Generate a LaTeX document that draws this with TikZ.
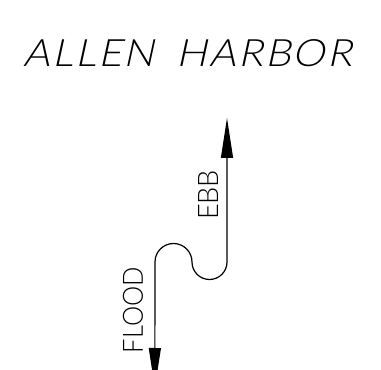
\documentclass[tikz,border=0pt]{standalone}
\usepackage{fontspec}
\setmainfont{Liberation Sans}
\newfontfamily\titlefont[FakeSlant=0.2,LetterSpace=5]{Lato Light}
\newfontfamily\labelfont{Lato Light}
\usetikzlibrary{arrows.meta}
\tikzset{
  flowline/.style={line width=1.2pt, {Triangle[length=40pt,width=12pt]}-{Triangle[length=40pt,width=12pt]}},
  titletext/.style={inner sep=0pt, font=\titlefont\fontsize{37.7}{40}\selectfont},
  dirtext/.style={inner sep=0pt, rotate=90, font=\labelfont\fontsize{27.9}{30}\selectfont}
}
\begin{document}
\begin{tikzpicture}[x=1pt,y=1pt]
\useasboundingbox (0,0) rectangle (381,370);
\clip (0,0) rectangle (381,370);
\node[titletext] (title) at (188,316.5) {\resizebox{328pt}{27pt}{ALLEN\hspace{8pt} HARBOR}};
\coordinate (floodtip) at (154.8,-18);
\coordinate (bend) at (155,108);
\coordinate (ebbtip) at (227,252);
\draw[flowline] (floodtip) -- (bend) arc[start angle=180,end angle=0,radius=18.5pt] arc[start angle=180,end angle=360,radius=17.5pt] -- (ebbtip);
\node[dirtext] (ebb) at (208,175) {\resizebox{50pt}{20pt}{EBB}};
\node[dirtext] (flood) at (133,60) {\resizebox{86pt}{20pt}{FLOOD}};
\end{tikzpicture}
\end{document}
